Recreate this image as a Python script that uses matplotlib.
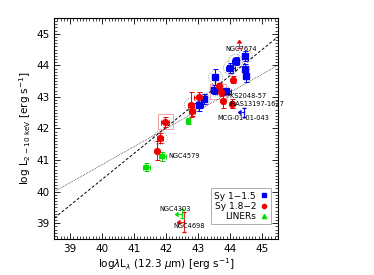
#!/usr/bin/env python
import matplotlib
matplotlib.use('Agg')
import matplotlib.pyplot as plt
from matplotlib.patches import Circle, Rectangle
from matplotlib.ticker import MultipleLocator
import numpy as np

# Sy 1-1.5
sy1_x = [44.49, 44.18, 44.02, 44.49, 44.51, 43.55, 43.52, 43.89, 43.19, 43.05]
sy1_y = [44.29, 44.13, 43.92, 43.89, 43.67, 43.62, 43.23, 43.18, 42.94, 42.75]
sy1_xerr = [0.05, 0.1, 0.15, 0.05, 0.05, 0.05, 0.1, 0.15, 0.1, 0.1]
sy1_yerr = [0.15, 0.12, 0.15, 0.15, 0.2, 0.25, 0.15, 0.1, 0.15, 0.2]

# Sy 1.8-2
sy2_x = [44.09, 43.65, 43.71, 43.80, 44.06, 43.03, 42.79, 42.82, 41.98, 41.82, 41.73]
sy2_y = [43.55, 43.34, 43.15, 42.86, 42.79, 43.00, 42.75, 42.54, 42.21, 41.70, 41.30]
sy2_xerr = [0.05, 0.05, 0.1, 0.05, 0.05, 0.15, 0.1, 0.1, 0.12, 0.1, 0.05]
sy2_yerr = [0.12, 0.1, 0.12, 0.2, 0.15, 0.15, 0.4, 0.15, 0.15, 0.15, 0.3]

# LINERs
lin_x = [42.69, 41.89, 41.39]
lin_y = [42.23, 41.12, 40.78]
lin_xerr = [0.03, 0.12, 0.1]
lin_yerr = [0.1, 0.15, 0.12]

# limits: (x, y, yerr)
blue_lim = (44.46, 42.51, 0.15)
red_lim_up = (44.28, 44.55)
red_lim = (42.55, 39.05, 0.32)
green_lim = (42.50, 39.30, 0.15)

# fits: slope, intercept
dash_fit = [0.82, 39.16 - 0.82 * 38.5]
dot_fit = [0.571, 40.0 - 0.571 * 38.5]

circled = [(44.49, 44.29), (44.18, 44.13), (44.02, 43.92), (43.55, 43.62),
           (43.60, 43.25), (43.15, 42.90), (42.80, 42.75), (41.82, 41.70)]
boxed = [(41.98, 42.21), (43.63, 43.18)]

names = ['NGC7674', 'PKS2048-57', 'IRAS13197-1627', 'MCG-01-01-043',
         'NGC4579', 'NGC4303', 'NGC4698']
name_x = [43.85, 43.88, 44.0, 43.62, 42.06, 41.8, 42.24]
name_y = [44.52, 43.03, 42.78, 42.33, 41.12, 39.45, 38.9]


def main():
    fig = plt.figure(figsize=(3.74, 2.75), dpi=100)
    ax = fig.add_axes([0.145, 0.131, 0.5975, 0.8035])
    xs = np.array([38.5, 45.5])
    ax.plot(xs, np.polyval(dash_fit, xs), 'k', ls=(0, (3, 2)), lw=0.7)
    ax.plot(xs, np.polyval(dot_fit, xs), color='k', ls=(0, (1, 1.5)), lw=0.5)

    for cx, cy in circled:
        ax.add_patch(Circle((cx, cy), 0.22, fill=False, ec='gray', ls=':', lw=0.6))
    for bx, by in boxed:
        ax.add_patch(Rectangle((bx - 0.24, by - 0.24), 0.48, 0.48, fill=False,
                               ec='#f0a0a0', lw=0.7))

    kw = dict(capsize=1.8, elinewidth=0.7, capthick=0.7, ls='none')
    ax.errorbar(sy1_x, sy1_y, xerr=sy1_xerr, yerr=sy1_yerr, fmt='s', color='#0000ee',
                ms=4.2, **kw)
    ax.errorbar(sy2_x, sy2_y, xerr=sy2_xerr, yerr=sy2_yerr, fmt='o', color='#ee0000',
                ms=4.2, **kw)
    ax.errorbar(lin_x, lin_y, xerr=lin_xerr, yerr=lin_yerr, fmt='s', color='#00dd00',
                ms=3, **kw)

    # limits
    ax.errorbar(blue_lim[0], blue_lim[1], xerr=0.12, yerr=blue_lim[2], xuplims=True,
                fmt='none', color='#0000ee', elinewidth=0.6, capsize=1.5)
    ax.errorbar(red_lim_up[0], red_lim_up[1], yerr=0.15, lolims=True, fmt='none',
                color='#ee0000', elinewidth=0.6, capsize=1.5)
    ax.errorbar(red_lim[0], red_lim[1], xerr=0.12, yerr=red_lim[2], xuplims=True,
                fmt='none', color='#ee0000', elinewidth=0.6, capsize=1.5)
    ax.errorbar(green_lim[0], green_lim[1], xerr=0.12, yerr=green_lim[2], xuplims=True,
                fmt='none', color='#00dd00', elinewidth=0.6, capsize=1.5)

    for n, tx, ty in zip(names, name_x, name_y):
        ax.text(tx, ty, n, fontsize=4.8, va='center', ha='left')

    # legend
    h1, = ax.plot([], [], 's', color='#0000ee', ms=3)
    h2, = ax.plot([], [], 'o', color='#ee0000', ms=3)
    h3, = ax.plot([], [], '^', color='#00dd00', ms=3)
    leg = ax.legend([h1, h2, h3], ['Sy 1\u22121.5', 'Sy 1.8\u22122', 'LINERs'],
                    loc='lower right', bbox_to_anchor=(0.97, 0.066), fontsize=6.5,
                    markerfirst=False, fancybox=False, edgecolor='#999999',
                    handlelength=0.8, handletextpad=0.5, borderpad=0.35,
                    labelspacing=0.15, borderaxespad=0.0)
    leg.get_frame().set_linewidth(0.7)

    ax.set_xlim(38.5, 45.5)
    ax.set_ylim(38.5, 45.5)
    ax.xaxis.set_major_locator(MultipleLocator(1))
    ax.yaxis.set_major_locator(MultipleLocator(1))
    ax.xaxis.set_minor_locator(MultipleLocator(0.1))
    ax.yaxis.set_minor_locator(MultipleLocator(0.1))
    ax.tick_params(which='both', direction='in', top=True, right=True, labelsize=7.5)
    ax.tick_params(which='major', length=4, width=0.6)
    ax.tick_params(which='minor', length=2, width=0.5)
    for s in ax.spines.values():
        s.set_linewidth(0.8)
    ax.set_xlabel(r'log$\lambda$L$_\lambda$ (12.3 $\mu$m) [erg s$^{-1}$]', fontsize=7.5,
                  labelpad=2)
    ax.set_ylabel(r'log L$_{2-10\ \mathrm{keV}}$ [erg s$^{-1}$]', fontsize=7.5, labelpad=2)
    fig.savefig('out.png', dpi=100)


if __name__ == '__main__':
    main()
